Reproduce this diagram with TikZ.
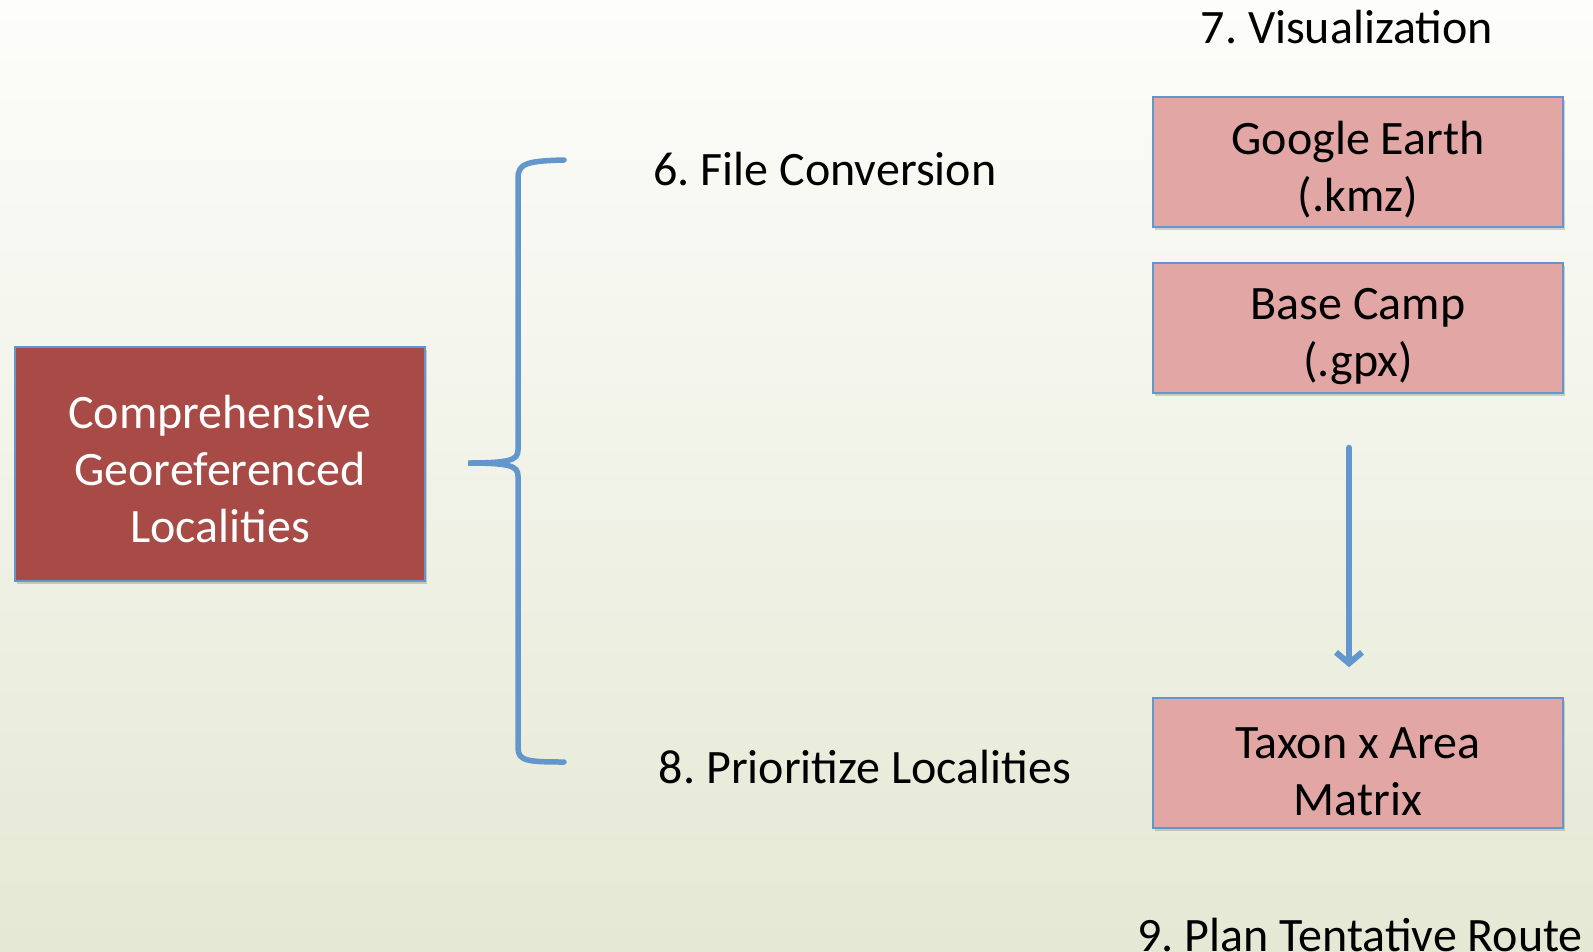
\documentclass[tikz,border=0pt]{standalone}
\usepackage{fontspec}
\setmainfont{Carlito}
\usetikzlibrary{arrows.meta,shadows}
\frenchspacing
\definecolor{slideblue}{RGB}{98,150,205}
\definecolor{boxred}{RGB}{168,74,69}
\definecolor{boxpink}{RGB}{226,166,165}
\definecolor{bgtop}{RGB}{253,253,251}
\definecolor{bgbottom}{RGB}{229,232,212}
\newcommand{\boxpad}[1]{\rule{0pt}{#1}}
\tikzset{
    bigtext/.style={font=\fontsize{48bp}{57bp}\selectfont},
    slidebox/.style={bigtext, draw=slideblue, line width=1.5bp, minimum width=410bp, minimum height=130bp,
        inner sep=0pt, align=center, drop shadow={opacity=0.35, shadow xshift=2bp, shadow yshift=-3bp}},
}
\begin{document}
\begin{tikzpicture}[x=1bp, y=-1bp, line cap=round, >={Straight Barb[length=11bp,width=26bp]}]
        \useasboundingbox (0,0) rectangle (1593,951);
        \shade[top color=bgtop, bottom color=bgbottom] (0,0) rectangle (1593,951);

        \node[slidebox, fill=boxred, text=white, minimum height=234bp] (cgl) at (220,464) {\boxpad{43bp}Comprehensive\\Georeferenced\\Localities};
        \node[slidebox, fill=boxpink] (ge) at (1358,162) {\boxpad{48bp}Google Earth\\(.kmz)};
        \node[slidebox, fill=boxpink] (bc) at (1358,328) {\boxpad{48bp}Base Camp\\(.gpx)};
        \node[slidebox, fill=boxpink] (tam) at (1358,763) {\boxpad{48bp}Taxon x Area\\Matrix};

        \node[bigtext, anchor=base] (vis) at (1347,43) {7. Visualization};
        \node[bigtext, anchor=base] (conv) at (825,185) {6. File Conversion};
        \node[bigtext, anchor=base] (prio) at (865,783) {8. Prioritize Localities};
        \node[bigtext, anchor=base] (route) at (1360,951) {9. Plan Tentative Route};

        \draw[slideblue, line width=5.5bp] (564,160) .. controls (528,161) and (518,163) .. (518,178) -- (518,450)
            .. controls (518,460) and (510,463) .. (468,463) .. controls (510,463) and (518,466) .. (518,476)
            -- (518,748) .. controls (518,761) and (528,762) .. (564,762);
        \coordinate (arrtop) at ([xshift=-9bp, yshift=-54bp]bc.south);
        \coordinate (arrend) at ([xshift=-9bp, yshift=30bp]tam.north);
        \draw[slideblue, line width=6bp, ->] (arrtop) -- (arrend);
    \end{tikzpicture}
\end{document}
